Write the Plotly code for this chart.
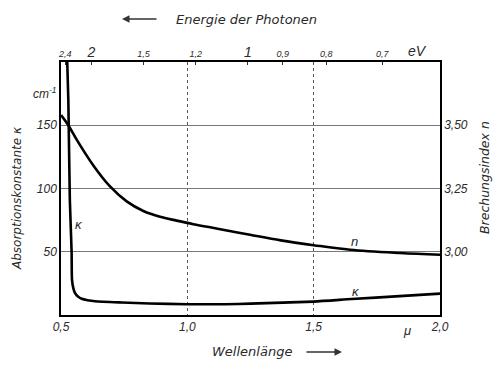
import plotly.graph_objects as go

# Data
n_wavelength = [0.50, 0.529, 0.562, 0.628, 0.694, 0.76, 0.826, 0.892, 0.958, 1.024, 1.12, 1.248, 1.37, 1.5,
                1.644, 1.842, 2.0]
n_values = [3.54, 3.50, 3.443, 3.341, 3.258, 3.199, 3.161, 3.138, 3.123, 3.109, 3.091, 3.067, 3.045, 3.026,
            3.008, 2.995, 2.988]

k_wavelength = [0.524, 0.529, 0.535, 0.542, 0.5435, 0.549, 0.555, 0.567, 0.582, 0.605, 0.635, 0.74, 0.85,
                1.0, 1.15, 1.25, 1.5, 1.65, 1.84, 2.0]
k_values = [205, 170, 91, 50, 28, 21, 17.5, 14.6, 12.8, 11.7, 10.9, 9.9, 9.1,
            8.5, 8.5, 9.0, 10.6, 12.6, 14.9, 16.9]

x_ticks = [0.5, 1.0, 1.5, 2.0]
x_ticktext = ["0,5", "1,0", "1,5", "2,0"]
k_ticks = [50, 100, 150]
k_ticktext = ["50", "100", "150"]
n_ticks = [3.00, 3.25, 3.50]
n_ticktext = ["3,00", "3,25", "3,50"]
ev_ticks = [2.4, 2, 1.5, 1.2, 1, 0.9, 0.8, 0.7]
ev_ticktext = ["2,4", "2", "1,5", "1,2", "1", "0,9", "0,8", "0,7"]
ev_big = {"2", "1"}

FONT = "Liberation Sans"
TFONT = "DejaVu Sans"
TXT = "#2a2a2a"

ev_pos = [1.2398 / e for e in ev_ticks]
ev_text = [
    (f"<span style='font-size:14px'>{t}</span>" if t in ev_big else f"<span style='font-size:9px'>{t}</span>")
    for t in ev_ticktext
]

fig = go.Figure()
fig.add_trace(go.Scatter(x=k_wavelength, y=k_values, mode="lines",
                         line=dict(color="black", width=2.6, shape="spline", smoothing=0.6),
                         xaxis="x", yaxis="y", showlegend=False, hoverinfo="skip"))
fig.add_trace(go.Scatter(x=n_wavelength, y=n_values, mode="lines",
                         line=dict(color="black", width=2.6, shape="spline", smoothing=1.0),
                         xaxis="x2", yaxis="y2", showlegend=False, hoverinfo="skip"))

tickfont = dict(family=FONT, size=12, color=TXT, style="italic")

fig.update_layout(
    width=494, height=367,
    margin=dict(l=61, r=54, t=62, b=52),
    paper_bgcolor="white", plot_bgcolor="white",
    font=dict(family=FONT, color=TXT, style="italic"),
    xaxis=dict(range=[0.5, 2.0], tickvals=x_ticks, ticktext=x_ticktext, tickfont=tickfont,
               showgrid=True, gridcolor="#555", gridwidth=1, griddash="dot",
               showline=True, linecolor="black", linewidth=1.5, ticks="", zeroline=False),
    xaxis2=dict(range=[0.5, 2.0], overlaying="x", side="top", tickvals=ev_pos, ticktext=ev_text,
                tickfont=dict(family=FONT, size=9, color=TXT, style="italic"),
                showgrid=False, showline=True, linecolor="black", linewidth=1.5,
                ticks="inside", ticklen=3, tickcolor="#333", zeroline=False),
    yaxis=dict(range=[0, 200], tickvals=k_ticks, ticktext=k_ticktext, tickfont=tickfont,
               showgrid=True, gridcolor="#777", gridwidth=1,
               showline=True, linecolor="black", linewidth=1.5, ticks="", zeroline=False),
    yaxis2=dict(range=[2.75, 3.75], overlaying="y", side="right", tickvals=n_ticks, ticktext=n_ticktext,
                tickfont=tickfont, showgrid=False, showline=True, linecolor="black", linewidth=1.5,
                ticks="", zeroline=False),
)

ann = []
def txt(x, y, text, size=12, angle=0, family=FONT, xanchor="center", yanchor="middle"):
    ann.append(dict(x=x, y=y, xref="paper", yref="paper", text=text, showarrow=False, textangle=angle,
                    xanchor=xanchor, yanchor=yanchor,
                    font=dict(family=family, size=size, color=TXT, style="italic")))

# pixel -> paper helpers (plot area: x 61..440, y 62..315)
def px(x):
    return (x - 61) / (440 - 61)
def py(y):
    return (315 - y) / (315 - 62)

txt(px(246), py(19), "Energie der Photonen", size=13, family=TFONT)
txt(px(252), py(351), "Wellenlänge", size=13, family=TFONT)
txt(px(17), py(198), "Absorptionskonstante κ", size=12, angle=-90, family=TFONT)
txt(px(484), py(178), "Brechungsindex n", size=12.5, angle=-90, family=TFONT)
txt(px(44), py(93), "cm<sup>-1</sup>", size=12)
txt(px(407), py(330), "μ", size=13)
txt(px(417), py(51), "eV", size=14)
txt(px(79), py(224), "κ", size=13)
txt(px(354), py(241), "n", size=13)
txt(px(356), py(291), "κ", size=13)

# arrows (head position + pixel offset of tail)
ann.append(dict(x=px(122), y=py(19), ax=36, ay=0, xref="paper", yref="paper",
                text="", showarrow=True, arrowhead=2,
                arrowsize=1, arrowwidth=1.5, arrowcolor="#333"))
ann.append(dict(x=px(342), y=py(352), ax=-37, ay=0, xref="paper", yref="paper",
                text="", showarrow=True, arrowhead=2,
                arrowsize=1, arrowwidth=1.5, arrowcolor="#333"))

fig.update_layout(annotations=ann)
fig.write_html("out.html", post_script="document.body.style.margin='0';",
               config={"displayModeBar": False})
